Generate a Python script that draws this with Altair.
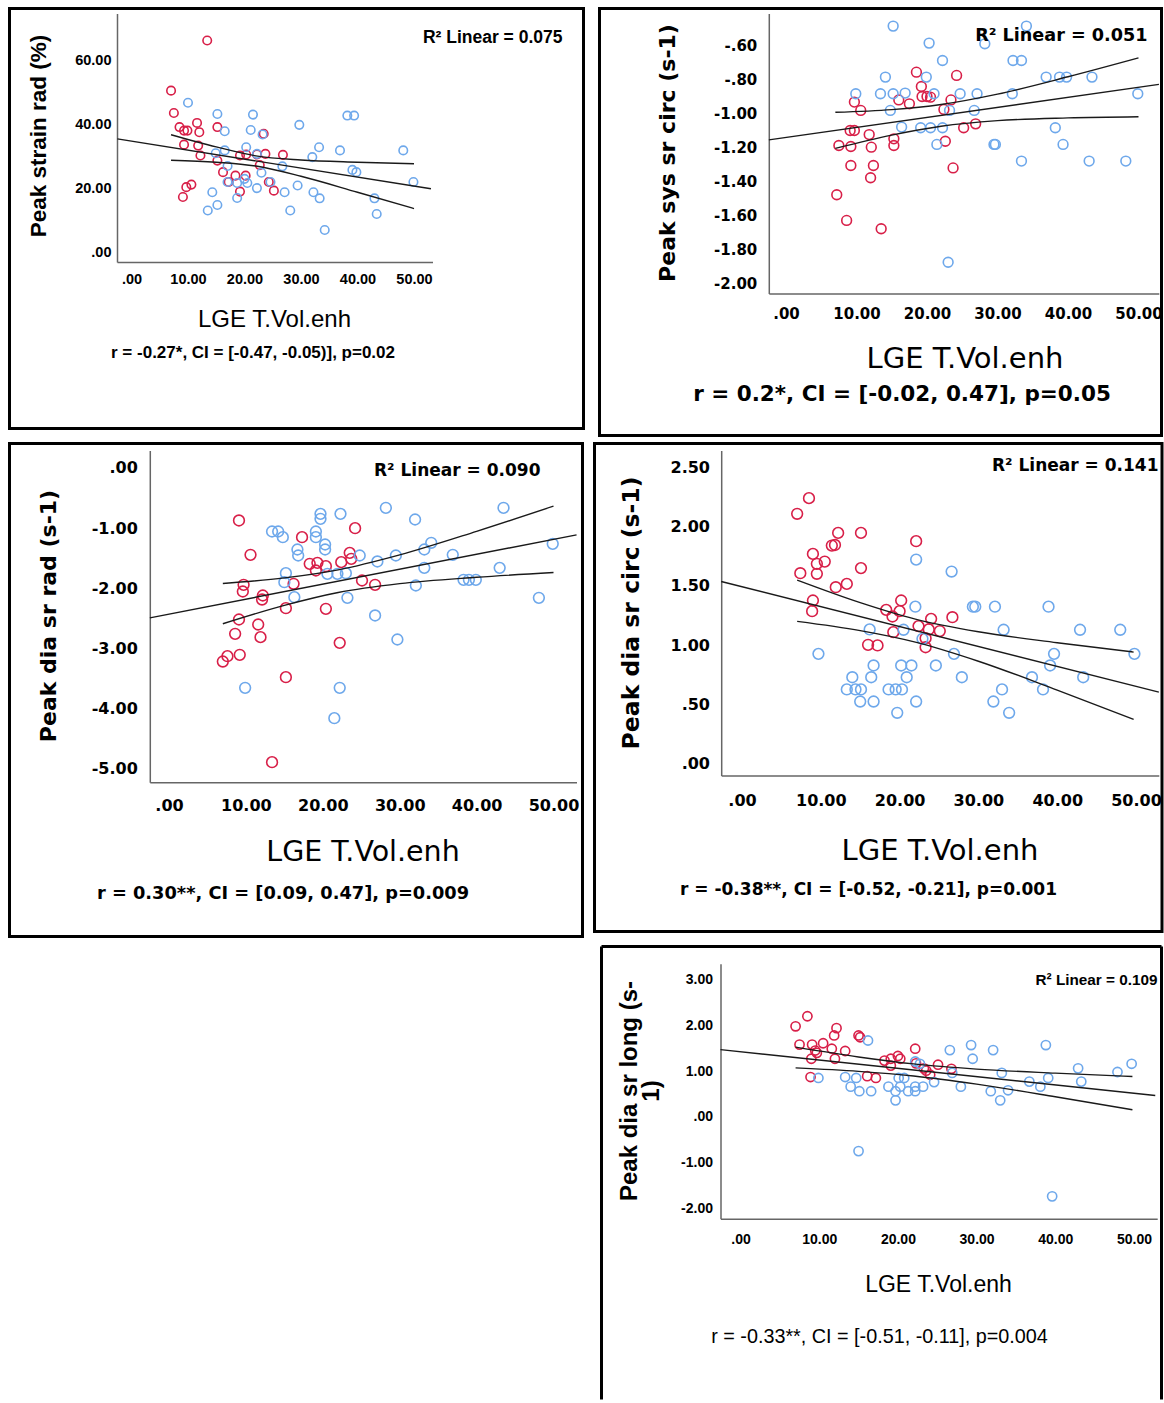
import altair as alt
import pandas as pd

RED = "#d81f48"
BLUE = "#6ea8eb"

# ---------------- data ----------------
X_TICKS = [0, 10, 20, 30, 40, 50]
X_TITLE = "LGE T.Vol.enh"

# Panel 1: Peak strain rad (%)
P1_RED_X = [13.4, 7.0, 7.5, 8.5, 9.3, 9.9, 9.3, 11.6, 12.0, 11.8, 12.2, 15.2, 15.2, 16.2, 17.2, 18.4, 19.2, 19.2, 20.2, 20.3, 22.2, 22.7, 23.4, 23.7, 24.3, 25.2, 26.8, 9.7, 10.6, 9.1]
P1_RED_Y = [66.2, 50.5, 43.5, 39.1, 38.0, 38.0, 33.6, 40.4, 37.5, 33.3, 30.2, 39.1, 28.6, 25.0, 21.9, 23.9, 30.2, 18.9, 23.9, 30.5, 30.5, 27.2, 37.0, 30.7, 21.9, 19.2, 30.4, 20.3, 21.1, 17.2]
P1_BLUE_X = [10.0, 15.2, 21.5, 16.5, 21.1, 23.2, 29.7, 38.2, 39.4, 33.2, 32.0, 36.9, 48.1, 20.3, 14.9, 16.5, 17.0, 22.2, 23.0, 26.7, 39.1, 39.8, 49.9, 17.0, 18.7, 20.0, 20.5, 24.6, 22.2, 14.3, 18.7, 29.4, 27.1, 32.2, 33.3, 43.0, 13.5, 15.2, 28.1, 43.4, 34.2]
P1_BLUE_Y = [46.7, 43.2, 43.0, 37.8, 38.2, 36.8, 39.8, 42.7, 42.7, 32.8, 29.7, 31.8, 31.8, 32.8, 30.9, 31.8, 26.9, 30.7, 24.8, 26.8, 25.7, 25.0, 21.9, 21.9, 21.6, 22.9, 21.6, 21.9, 20.0, 18.7, 16.9, 20.8, 18.7, 18.7, 16.8, 16.8, 13.0, 14.7, 13.0, 11.9, 6.9]
P1_FIT_X = [-2.5, 53.0]
P1_FIT_Y = [35.4, 19.8]
P1_CI_X = [7, 15, 22, 30, 40, 50]
P1_CIU_Y = [36.7, 32.9, 30.1, 28.8, 28.1, 27.6]
P1_CIL_Y = [28.7, 28.1, 26.9, 23.7, 18.7, 13.6]
P1_Y_TICKS = [0, 20, 40, 60]
P1_Y_TITLE = "Peak strain rad (%)"
P1_R2 = "R\u00b2 Linear = 0.075"
P1_STAT = "r = -0.27*, CI = [-0.47, -0.05)], p=0.02"

# Panel 2: Peak sys sr circ (s-1)
P2_RED_X = [18.5, 24.2, 19.2, 9.7, 10.6, 16.0, 17.5, 19.3, 20.0, 20.5, 23.4, 22.4, 9.1, 9.7, 11.8, 7.5, 9.2, 12.1, 15.3, 15.3, 22.6, 25.2, 26.9, 9.2, 12.4, 12.0, 23.7, 7.2, 8.6, 13.5]
P2_RED_Y = [-0.757, -0.776, -0.841, -0.933, -0.982, -0.920, -0.943, -0.900, -0.900, -0.904, -0.920, -0.976, -1.100, -1.100, -1.124, -1.188, -1.194, -1.198, -1.149, -1.188, -1.163, -1.084, -1.061, -1.306, -1.306, -1.378, -1.320, -1.478, -1.629, -1.678]
P2_BLUE_X = [15.2, 34.1, 20.3, 28.2, 22.2, 32.2, 33.4, 14.1, 36.9, 38.8, 39.8, 43.4, 19.9, 9.9, 13.4, 15.2, 16.9, 21.0, 24.7, 27.1, 32.1, 49.9, 14.8, 23.2, 26.7, 16.4, 19.1, 20.5, 22.2, 38.2, 21.4, 29.5, 29.7, 39.3, 33.4, 43.0, 48.2, 23.0]
P2_BLUE_Y = [-0.486, -0.486, -0.586, -0.590, -0.688, -0.688, -0.688, -0.786, -0.786, -0.786, -0.786, -0.786, -0.786, -0.884, -0.884, -0.884, -0.880, -0.884, -0.884, -0.884, -0.884, -0.884, -0.982, -0.982, -0.982, -1.080, -1.084, -1.084, -1.084, -1.084, -1.182, -1.182, -1.182, -1.182, -1.280, -1.280, -1.280, -1.875]
P2_FIT_X = [-2.43, 52.9]
P2_FIT_Y = [-1.155, -0.829]
P2_CI_X = [7, 15, 22, 30, 40, 50]
P2_CIU_Y = [-0.993, -0.977, -0.947, -0.886, -0.784, -0.673]
P2_CIL_Y = [-1.205, -1.127, -1.075, -1.042, -1.026, -1.019]
P2_Y_TICKS = [-2.0, -1.8, -1.6, -1.4, -1.2, -1.0, -0.8, -0.6]
P2_Y_TITLE = "Peak sys sr circ (s-1)"
P2_R2 = "R\u00b2 Linear = 0.051"
P2_STAT = "r = 0.2*, CI = [-0.02, 0.47], p=0.05"

# Panel 3: Peak dia sr rad (s-1)
P3_RED_X = [9.1, 10.6, 17.3, 24.2, 23.5, 23.7, 18.3, 19.3, 20.4, 19.1, 22.4, 25.1, 26.8, 9.7, 9.6, 12.2, 12.1, 16.2, 15.2, 20.4, 9.1, 11.6, 11.9, 8.6, 9.2, 7.6, 7.0, 22.2, 15.2, 13.4]
P3_RED_Y = [-0.875, -1.446, -1.152, -1.003, -1.413, -1.512, -1.595, -1.579, -1.634, -1.706, -1.567, -1.872, -1.944, -1.944, -2.055, -2.121, -2.188, -1.927, -2.332, -2.343, -2.520, -2.603, -2.813, -2.758, -3.107, -3.129, -3.218, -2.908, -3.478, -4.890]
P3_BLUE_X = [28.2, 43.5, 19.7, 19.7, 22.3, 32.0, 13.4, 14.2, 14.8, 19.1, 19.1, 20.3, 20.3, 16.7, 16.8, 24.8, 27.1, 29.5, 34.1, 33.2, 36.9, 49.9, 33.2, 43.0, 15.2, 20.6, 21.9, 23.0, 38.3, 39.0, 39.9, 15.0, 16.3, 23.2, 32.1, 48.1, 26.8, 29.7, 9.9, 22.2, 21.5]
P3_BLUE_Y = [-0.665, -0.665, -0.765, -0.848, -0.765, -0.859, -1.058, -1.058, -1.152, -1.058, -1.152, -1.274, -1.357, -1.357, -1.457, -1.457, -1.556, -1.457, -1.246, -1.357, -1.446, -1.263, -1.662, -1.662, -1.750, -1.761, -1.761, -1.750, -1.861, -1.861, -1.861, -1.900, -2.149, -2.160, -1.955, -2.160, -2.453, -2.852, -3.655, -3.655, -4.159]
P3_FIT_X = [-2.49, 53.0]
P3_FIT_Y = [-2.492, -1.114]
P3_CI_X = [7, 15, 22, 30, 40, 50]
P3_CIU_Y = [-1.921, -1.829, -1.695, -1.446, -1.055, -0.637]
P3_CIL_Y = [-2.591, -2.285, -2.071, -1.924, -1.819, -1.739]
P3_Y_TICKS = [-5, -4, -3, -2, -1, 0]
P3_Y_TITLE = "Peak dia sr rad (s-1)"
P3_R2 = "R\u00b2 Linear = 0.090"
P3_STAT = "r = 0.30**, CI = [0.09, 0.47], p=0.009"

# Panel 4: Peak dia sr circ (s-1)
P4_RED_X = [8.5, 7.0, 12.2, 15.1, 11.8, 11.4, 22.1, 9.0, 9.5, 10.5, 7.4, 9.5, 15.1, 11.9, 13.3, 9.0, 8.9, 20.2, 18.3, 20.0, 19.1, 24.0, 26.7, 22.4, 23.7, 25.1, 19.2, 23.3, 23.3, 16.0, 17.2]
P4_RED_Y = [2.240, 2.108, 1.947, 1.947, 1.845, 1.840, 1.877, 1.770, 1.686, 1.705, 1.607, 1.602, 1.650, 1.489, 1.517, 1.377, 1.287, 1.377, 1.298, 1.287, 1.242, 1.222, 1.236, 1.161, 1.133, 1.119, 1.110, 1.059, 0.983, 1.003, 0.998]
P4_BLUE_X = [22.1, 26.6, 22.0, 29.3, 29.6, 32.1, 38.9, 16.2, 20.5, 33.2, 42.9, 48.0, 9.7, 26.9, 39.6, 49.8, 22.9, 16.7, 20.2, 21.5, 24.6, 39.1, 14.0, 16.4, 20.9, 27.9, 36.8, 43.3, 13.3, 14.4, 15.1, 18.6, 19.5, 20.3, 33.0, 38.2, 15.0, 16.7, 22.1, 31.9, 19.7, 33.9]
P4_BLUE_Y = [1.722, 1.621, 1.325, 1.325, 1.325, 1.325, 1.325, 1.133, 1.130, 1.130, 1.130, 1.130, 0.927, 0.927, 0.927, 0.927, 1.054, 0.829, 0.829, 0.829, 0.829, 0.829, 0.730, 0.730, 0.730, 0.730, 0.730, 0.730, 0.627, 0.627, 0.627, 0.627, 0.627, 0.627, 0.627, 0.627, 0.525, 0.525, 0.525, 0.525, 0.430, 0.430]
P4_FIT_X = [-2.64, 52.9]
P4_FIT_Y = [1.537, 0.604]
P4_CI_X = [7, 15, 22, 30, 40, 49.7]
P4_CIU_Y = [1.549, 1.359, 1.220, 1.113, 1.021, 0.942]
P4_CIL_Y = [1.201, 1.123, 1.026, 0.865, 0.621, 0.374]
P4_Y_TICKS = [0, 0.5, 1.0, 1.5, 2.0, 2.5]
P4_Y_TITLE = "Peak dia sr circ (s-1)"
P4_R2 = "R\u00b2 Linear = 0.141"
P4_STAT = "r = -0.38**, CI = [-0.52, -0.21], p=0.001"

# Panel 5: Peak dia sr long (s-1)
P5_RED_X = [8.5, 7.0, 12.2, 11.9, 15.0, 15.2, 22.2, 7.5, 9.1, 9.5, 9.7, 10.5, 11.6, 13.3, 9.0, 12.0, 8.9, 16.1, 17.2, 18.3, 19.1, 20.0, 20.3, 19.1, 22.3, 23.3, 23.6, 24.1, 25.1, 26.8]
P5_RED_Y = [2.20, 1.98, 1.94, 1.78, 1.78, 1.74, 1.49, 1.58, 1.58, 1.45, 1.40, 1.61, 1.49, 1.44, 1.27, 1.27, 0.87, 0.89, 0.85, 1.23, 1.27, 1.33, 1.27, 1.12, 1.17, 1.06, 1.01, 0.92, 1.14, 1.05]
P5_BLUE_X = [16.2, 26.6, 29.3, 32.1, 38.8, 29.5, 42.9, 49.7, 22.2, 22.8, 47.9, 33.2, 26.9, 39.1, 43.3, 36.7, 38.1, 9.9, 13.3, 14.7, 14.0, 15.1, 16.6, 20.1, 20.8, 18.8, 20.3, 19.7, 21.3, 22.2, 22.2, 23.2, 24.6, 28.0, 31.8, 34.0, 33.0, 19.7, 15.0, 39.6]
P5_BLUE_Y = [1.67, 1.46, 1.57, 1.46, 1.57, 1.27, 1.06, 1.16, 1.21, 1.16, 0.98, 0.96, 0.96, 0.85, 0.77, 0.77, 0.66, 0.85, 0.87, 0.85, 0.66, 0.56, 0.56, 0.85, 0.85, 0.66, 0.66, 0.56, 0.56, 0.66, 0.56, 0.66, 0.76, 0.66, 0.56, 0.58, 0.36, 0.36, -0.75, -1.74]
P5_FIT_X = [-2.54, 52.7]
P5_FIT_Y = [1.47, 0.466]
P5_CI_X = [7, 15, 22, 30, 40, 49.8]
P5_CIU_Y = [1.524, 1.310, 1.158, 1.044, 0.955, 0.883]
P5_CIL_Y = [1.070, 0.994, 0.892, 0.714, 0.439, 0.153]
P5_Y_TICKS = [-2, -1, 0, 1, 2, 3]
P5_Y_TITLE = ["Peak dia sr long (s-", "1)"]
P5_R2 = "R\u00b2 Linear = 0.109"
P5_STAT = "r = -0.33**, CI = [-0.51, -0.11], p=0.004"

# ---------------- layout / style (page pixel coordinates) ----------------
LS = "Liberation Sans"
DJ = "DejaVu Sans"
STYLE = {
    1: dict(plot=(116.5, 13, 432, 261.5), box=(9, 8, 583, 428), x0=131, xppu=5.65, y0=251.5, yppu=3.195,
            font=LS, tick=14.5, xpad=10, ypad=6, yt_pos=(38, 135), yt_size=22.5, xt_pos=(273.5, 319), xt_size=24,
            r2_pos=(562, 37), r2_size=17.5, st_pos=(252.5, 352), st_size=17, st_weight="bold", pt=72),
    2: dict(plot=(768.3, 13, 1158.3, 293), box=(599, 8, 1161, 435), x0=785.5, xppu=7.05, y0=-57, yppu=170,
            font=DJ, tick=15, xpad=13, ypad=12, yt_pos=(667, 152), yt_size=22, xt_pos=(964, 358), xt_size=29,
            r2_pos=(1147, 35), r2_size=17.6, st_pos=(901.5, 394), st_size=21.5, st_weight="bold", pt=95),
    3: dict(plot=(149.3, 450, 576, 781.7), box=(9, 443, 582, 936), x0=168.5, xppu=7.69, y0=467.3, yppu=60.2,
            font=DJ, tick=16, xpad=15, ypad=12.5, yt_pos=(47.5, 615), yt_size=22, xt_pos=(362, 851), xt_size=28.5,
            r2_pos=(540, 470), r2_size=17, st_pos=(282.5, 893), st_size=17.8, st_weight="bold", pt=115),
    4: dict(plot=(720.7, 450, 1158.3, 775), box=(594, 443, 1161.5, 931), x0=741.5, xppu=7.88, y0=763.3, yppu=118.6,
            font=DJ, tick=16, xpad=17, ypad=11.7, yt_pos=(631, 612), yt_size=23.5, xt_pos=(939, 850), xt_size=29,
            r2_pos=(1158, 465), r2_size=17, st_pos=(868, 889), st_size=17, st_weight="bold", pt=115),
    5: dict(plot=(720, 963.3, 1156.7, 1218.3), box=(601, 946, 1161, 1399), x0=740, xppu=7.87, y0=1116.3, yppu=45.7,
            font=LS, tick=14, xpad=14, ypad=8, yt_pos=(629, 1090), yt_size=24, xt_pos=(937.5, 1284), xt_size=23,
            r2_pos=(1157, 979), r2_size=15.3, st_pos=(879, 1336), st_size=19.8, st_weight="normal", pt=85),
}

LABEL_EXPR = ("(datum.value < -0.000001 ? '-' : '') + (abs(datum.value) < 0.995 ? "
              "substring(format(abs(datum.value), '.2f'), 1) : format(abs(datum.value), '.2f'))")

DUMMY = pd.DataFrame({"a": [0]})


def make_panel(n, red_x, red_y, blue_x, blue_y, fit_x, fit_y, ci_x, ciu_y, cil_y,
               y_ticks, y_title, r2_text, stat_text, open_bottom=False):
    s = STYLE[n]
    px0, py0, px1, py1 = s["plot"]
    bx0, by0, bx1, by1 = s["box"]
    W, H = bx1 - bx0, by1 - by0          # the view is the whole framed box
    xdom = [(px0 - s["x0"]) / s["xppu"], (px1 - s["x0"]) / s["xppu"]]
    ydom = [(s["y0"] - py1) / s["yppu"], (s["y0"] - py0) / s["yppu"]]
    xrange = [px0 - bx0, px1 - bx0]
    yrange = [py1 - by0, py0 - by0]

    pts = pd.DataFrame({"x": red_x + blue_x, "y": red_y + blue_y,
                        "grp": ["red"] * len(red_x) + ["blue"] * len(blue_x)})
    lines = pd.DataFrame({"x": fit_x + ci_x + ci_x, "y": fit_y + ciu_y + cil_y,
                          "grp": ["fit"] * len(fit_x) + ["ciu"] * len(ci_x) + ["cil"] * len(ci_x)})

    common = dict(ticks=False, grid=False, domainColor="#666666", domainWidth=1.5,
                  labelFont=s["font"], labelFontSize=s["tick"], labelFontWeight="bold",
                  labelColor="black", labelExpr=LABEL_EXPR, labelOverlap=False, labelFlush=False,
                  labelBound=False, titleColor="black", titleFont=s["font"],
                  titleAlign="center", titleBaseline="middle")
    xaxis = alt.Axis(values=X_TICKS, labelPadding=s["xpad"], title=X_TITLE,
                     offset=-(by1 - py1),
                     titleFontSize=s["xt_size"], titleFontWeight="normal",
                     titleX=s["xt_pos"][0] - bx0, titleY=s["xt_pos"][1] - py1, **common)
    yaxis = alt.Axis(values=y_ticks, labelPadding=s["ypad"], title=y_title,
                     offset=-(px0 - bx0),
                     titleFontSize=s["yt_size"], titleFontWeight="bold", titleAngle=270,
                     titleLineHeight=22,
                     titleX=s["yt_pos"][0] - px0, titleY=s["yt_pos"][1] - by0, **common)
    X = alt.X("x:Q", scale=alt.Scale(domain=xdom, range=xrange, nice=False, zero=False), axis=xaxis)
    Y = alt.Y("y:Q", scale=alt.Scale(domain=ydom, range=yrange, nice=False, zero=False), axis=yaxis)

    points = alt.Chart(pts).mark_point(shape="circle", filled=False, size=s["pt"], strokeWidth=1.6,
                                       opacity=1).encode(
        x=X, y=Y,
        color=alt.Color("grp:N", scale=alt.Scale(domain=["blue", "red"], range=[BLUE, RED]), legend=None))
    lns = alt.Chart(lines).mark_line(color="#1a1a1a", strokeWidth=1.4, interpolate="monotone").encode(
        x=X, y=Y, detail="grp:N")

    if open_bottom:
        frame = [
            alt.Chart(DUMMY).mark_rule(color="black", strokeWidth=3).encode(
                x=alt.value(0), x2=alt.value(W), y=alt.value(0)),
            alt.Chart(DUMMY).mark_rule(color="black", strokeWidth=3).encode(
                x=alt.value(0), y=alt.value(0), y2=alt.value(H)),
            alt.Chart(DUMMY).mark_rule(color="black", strokeWidth=3).encode(
                x=alt.value(W), y=alt.value(0), y2=alt.value(H)),
        ]
    else:
        frame = [alt.Chart(DUMMY).mark_rect(fillOpacity=0, stroke="black", strokeWidth=3).encode(
            x=alt.value(0), x2=alt.value(W), y=alt.value(0), y2=alt.value(H))]

    r2 = alt.Chart(DUMMY).mark_text(text=r2_text, align="right", baseline="middle", font=s["font"],
                                    fontSize=s["r2_size"], fontWeight="bold", color="black").encode(
        x=alt.value(s["r2_pos"][0] - bx0), y=alt.value(s["r2_pos"][1] - by0))
    stat = alt.Chart(DUMMY).mark_text(text=stat_text, align="center", baseline="middle", font=s["font"],
                                      fontSize=s["st_size"], fontWeight=s["st_weight"], color="black").encode(
        x=alt.value(s["st_pos"][0] - bx0), y=alt.value(s["st_pos"][1] - by0))

    return alt.layer(*frame, points, lns, r2, stat).properties(width=W, height=H)


p1 = make_panel(1, P1_RED_X, P1_RED_Y, P1_BLUE_X, P1_BLUE_Y, P1_FIT_X, P1_FIT_Y, P1_CI_X, P1_CIU_Y, P1_CIL_Y,
                P1_Y_TICKS, P1_Y_TITLE, P1_R2, P1_STAT)
p2 = make_panel(2, P2_RED_X, P2_RED_Y, P2_BLUE_X, P2_BLUE_Y, P2_FIT_X, P2_FIT_Y, P2_CI_X, P2_CIU_Y, P2_CIL_Y,
                P2_Y_TICKS, P2_Y_TITLE, P2_R2, P2_STAT)
p3 = make_panel(3, P3_RED_X, P3_RED_Y, P3_BLUE_X, P3_BLUE_Y, P3_FIT_X, P3_FIT_Y, P3_CI_X, P3_CIU_Y, P3_CIL_Y,
                P3_Y_TICKS, P3_Y_TITLE, P3_R2, P3_STAT)
p4 = make_panel(4, P4_RED_X, P4_RED_Y, P4_BLUE_X, P4_BLUE_Y, P4_FIT_X, P4_FIT_Y, P4_CI_X, P4_CIU_Y, P4_CIL_Y,
                P4_Y_TICKS, P4_Y_TITLE, P4_R2, P4_STAT)
p5 = make_panel(5, P5_RED_X, P5_RED_Y, P5_BLUE_X, P5_BLUE_Y, P5_FIT_X, P5_FIT_Y, P5_CI_X, P5_CIU_Y, P5_CIL_Y,
                P5_Y_TICKS, P5_Y_TITLE, P5_R2, P5_STAT, open_bottom=True)

spacer = alt.Chart(DUMMY).mark_point(opacity=0).encode(
    x=alt.value(20), y=alt.value(5)).properties(width=590, height=10)

row1 = alt.hconcat(p1, p2, spacing=12)
row2 = alt.hconcat(p3, p4, spacing=8)
row3 = alt.hconcat(spacer, p5, spacing=0)

chart = alt.vconcat(alt.vconcat(row1, row2, spacing=4), row3, spacing=6).properties(
    padding={"left": 7.5, "top": 6.5, "right": 0, "bottom": 0},
    background="white",
).configure_view(stroke=None)

chart.save("out.html", embed_options={"renderer": "svg", "actions": False})
